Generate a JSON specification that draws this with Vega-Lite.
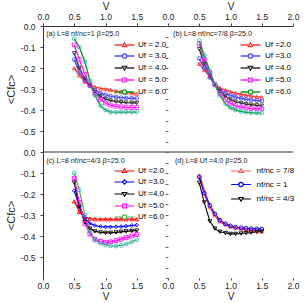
{
"$schema": "https://vega.github.io/schema/vega-lite/v6.json",
"padding": {"left": 5, "top": 1, "right": 5, "bottom": 0},
"config": {"view": {"stroke": null}, "font": "Liberation Sans", "axis": {"grid": false, "labelFont": "Liberation Sans", "titleFont": "Liberation Sans", "titleFontWeight": "normal", "labelFontSize": 8.5, "labelColor": "#222", "titleColor": "#222", "domainColor": "#333", "tickColor": "#444"},
"axisQuantitative": {"labelOverlap": false, "labelFlush": false},
"legend": {"labelFont": "Liberation Sans"}},
"datasets": {
"a": [
{"V":0.5,"C":-0.20,"U":"2.0"},{"V":0.58,"C":-0.235,"U":"2.0"},{"V":0.67,"C":-0.265,"U":"2.0"},{"V":0.75,"C":-0.28,"U":"2.0"},{"V":0.83,"C":-0.29,"U":"2.0"},{"V":0.92,"C":-0.297,"U":"2.0"},{"V":1.0,"C":-0.30,"U":"2.0"},{"V":1.08,"C":-0.305,"U":"2.0"},{"V":1.17,"C":-0.31,"U":"2.0"},{"V":1.25,"C":-0.313,"U":"2.0"},{"V":1.33,"C":-0.316,"U":"2.0"},{"V":1.42,"C":-0.32,"U":"2.0"},{"V":1.5,"C":-0.322,"U":"2.0"},
{"V":0.5,"C":-0.16,"U":"3.0"},{"V":0.58,"C":-0.22,"U":"3.0"},{"V":0.67,"C":-0.26,"U":"3.0"},{"V":0.75,"C":-0.285,"U":"3.0"},{"V":0.83,"C":-0.305,"U":"3.0"},{"V":0.92,"C":-0.32,"U":"3.0"},{"V":1.0,"C":-0.328,"U":"3.0"},{"V":1.08,"C":-0.334,"U":"3.0"},{"V":1.17,"C":-0.338,"U":"3.0"},{"V":1.25,"C":-0.341,"U":"3.0"},{"V":1.33,"C":-0.343,"U":"3.0"},{"V":1.42,"C":-0.344,"U":"3.0"},{"V":1.5,"C":-0.345,"U":"3.0"},
{"V":0.5,"C":-0.13,"U":"4.0"},{"V":0.58,"C":-0.20,"U":"4.0"},{"V":0.67,"C":-0.25,"U":"4.0"},{"V":0.75,"C":-0.285,"U":"4.0"},{"V":0.83,"C":-0.315,"U":"4.0"},{"V":0.92,"C":-0.335,"U":"4.0"},{"V":1.0,"C":-0.348,"U":"4.0"},{"V":1.08,"C":-0.355,"U":"4.0"},{"V":1.17,"C":-0.36,"U":"4.0"},{"V":1.25,"C":-0.363,"U":"4.0"},{"V":1.33,"C":-0.365,"U":"4.0"},{"V":1.42,"C":-0.366,"U":"4.0"},{"V":1.5,"C":-0.367,"U":"4.0"},
{"V":0.5,"C":-0.09,"U":"5.0"},{"V":0.58,"C":-0.16,"U":"5.0"},{"V":0.67,"C":-0.23,"U":"5.0"},{"V":0.75,"C":-0.28,"U":"5.0"},{"V":0.83,"C":-0.32,"U":"5.0"},{"V":0.92,"C":-0.35,"U":"5.0"},{"V":1.0,"C":-0.367,"U":"5.0"},{"V":1.08,"C":-0.377,"U":"5.0"},{"V":1.17,"C":-0.382,"U":"5.0"},{"V":1.25,"C":-0.385,"U":"5.0"},{"V":1.33,"C":-0.387,"U":"5.0"},{"V":1.42,"C":-0.388,"U":"5.0"},{"V":1.5,"C":-0.388,"U":"5.0"},
{"V":0.5,"C":-0.06,"U":"6.0"},{"V":0.58,"C":-0.10,"U":"6.0"},{"V":0.67,"C":-0.17,"U":"6.0"},{"V":0.75,"C":-0.26,"U":"6.0"},{"V":0.83,"C":-0.33,"U":"6.0"},{"V":0.92,"C":-0.38,"U":"6.0"},{"V":1.0,"C":-0.40,"U":"6.0"},{"V":1.08,"C":-0.41,"U":"6.0"},{"V":1.17,"C":-0.41,"U":"6.0"},{"V":1.25,"C":-0.41,"U":"6.0"},{"V":1.33,"C":-0.41,"U":"6.0"},{"V":1.42,"C":-0.41,"U":"6.0"},{"V":1.5,"C":-0.41,"U":"6.0"}
],
"b": [
{"V":0.5,"C":-0.18,"U":"2.0"},{"V":0.58,"C":-0.21,"U":"2.0"},{"V":0.67,"C":-0.24,"U":"2.0"},{"V":0.75,"C":-0.275,"U":"2.0"},{"V":0.83,"C":-0.295,"U":"2.0"},{"V":0.92,"C":-0.305,"U":"2.0"},{"V":1.0,"C":-0.313,"U":"2.0"},{"V":1.08,"C":-0.32,"U":"2.0"},{"V":1.17,"C":-0.325,"U":"2.0"},{"V":1.25,"C":-0.33,"U":"2.0"},{"V":1.33,"C":-0.334,"U":"2.0"},{"V":1.42,"C":-0.337,"U":"2.0"},{"V":1.5,"C":-0.34,"U":"2.0"},
{"V":0.5,"C":-0.155,"U":"3.0"},{"V":0.58,"C":-0.20,"U":"3.0"},{"V":0.67,"C":-0.245,"U":"3.0"},{"V":0.75,"C":-0.28,"U":"3.0"},{"V":0.83,"C":-0.305,"U":"3.0"},{"V":0.92,"C":-0.32,"U":"3.0"},{"V":1.0,"C":-0.33,"U":"3.0"},{"V":1.08,"C":-0.338,"U":"3.0"},{"V":1.17,"C":-0.344,"U":"3.0"},{"V":1.25,"C":-0.349,"U":"3.0"},{"V":1.33,"C":-0.352,"U":"3.0"},{"V":1.42,"C":-0.355,"U":"3.0"},{"V":1.5,"C":-0.357,"U":"3.0"},
{"V":0.5,"C":-0.11,"U":"4.0"},{"V":0.58,"C":-0.18,"U":"4.0"},{"V":0.67,"C":-0.235,"U":"4.0"},{"V":0.75,"C":-0.28,"U":"4.0"},{"V":0.83,"C":-0.31,"U":"4.0"},{"V":0.92,"C":-0.335,"U":"4.0"},{"V":1.0,"C":-0.35,"U":"4.0"},{"V":1.08,"C":-0.36,"U":"4.0"},{"V":1.17,"C":-0.367,"U":"4.0"},{"V":1.25,"C":-0.372,"U":"4.0"},{"V":1.33,"C":-0.375,"U":"4.0"},{"V":1.42,"C":-0.378,"U":"4.0"},{"V":1.5,"C":-0.38,"U":"4.0"},
{"V":0.5,"C":-0.085,"U":"5.0"},{"V":0.58,"C":-0.16,"U":"5.0"},{"V":0.67,"C":-0.225,"U":"5.0"},{"V":0.75,"C":-0.28,"U":"5.0"},{"V":0.83,"C":-0.32,"U":"5.0"},{"V":0.92,"C":-0.35,"U":"5.0"},{"V":1.0,"C":-0.368,"U":"5.0"},{"V":1.08,"C":-0.38,"U":"5.0"},{"V":1.17,"C":-0.386,"U":"5.0"},{"V":1.25,"C":-0.39,"U":"5.0"},{"V":1.33,"C":-0.393,"U":"5.0"},{"V":1.42,"C":-0.394,"U":"5.0"},{"V":1.5,"C":-0.395,"U":"5.0"},
{"V":0.5,"C":-0.07,"U":"6.0"},{"V":0.58,"C":-0.14,"U":"6.0"},{"V":0.67,"C":-0.215,"U":"6.0"},{"V":0.75,"C":-0.28,"U":"6.0"},{"V":0.83,"C":-0.33,"U":"6.0"},{"V":0.92,"C":-0.37,"U":"6.0"},{"V":1.0,"C":-0.39,"U":"6.0"},{"V":1.08,"C":-0.40,"U":"6.0"},{"V":1.17,"C":-0.407,"U":"6.0"},{"V":1.25,"C":-0.411,"U":"6.0"},{"V":1.33,"C":-0.413,"U":"6.0"},{"V":1.42,"C":-0.414,"U":"6.0"},{"V":1.5,"C":-0.415,"U":"6.0"}
],
"c": [
{"V":0.5,"C":-0.235,"U":"2.0"},{"V":0.58,"C":-0.285,"U":"2.0"},{"V":0.67,"C":-0.31,"U":"2.0"},{"V":0.75,"C":-0.317,"U":"2.0"},{"V":0.83,"C":-0.32,"U":"2.0"},{"V":0.92,"C":-0.32,"U":"2.0"},{"V":1.0,"C":-0.32,"U":"2.0"},{"V":1.08,"C":-0.32,"U":"2.0"},{"V":1.17,"C":-0.32,"U":"2.0"},{"V":1.25,"C":-0.32,"U":"2.0"},{"V":1.33,"C":-0.32,"U":"2.0"},{"V":1.42,"C":-0.32,"U":"2.0"},{"V":1.5,"C":-0.32,"U":"2.0"},
{"V":0.5,"C":-0.185,"U":"3.0"},{"V":0.58,"C":-0.26,"U":"3.0"},{"V":0.67,"C":-0.315,"U":"3.0"},{"V":0.75,"C":-0.34,"U":"3.0"},{"V":0.83,"C":-0.35,"U":"3.0"},{"V":0.92,"C":-0.355,"U":"3.0"},{"V":1.0,"C":-0.357,"U":"3.0"},{"V":1.08,"C":-0.357,"U":"3.0"},{"V":1.17,"C":-0.356,"U":"3.0"},{"V":1.25,"C":-0.355,"U":"3.0"},{"V":1.33,"C":-0.353,"U":"3.0"},{"V":1.42,"C":-0.35,"U":"3.0"},{"V":1.5,"C":-0.348,"U":"3.0"},
{"V":0.5,"C":-0.145,"U":"4.0"},{"V":0.58,"C":-0.26,"U":"4.0"},{"V":0.67,"C":-0.335,"U":"4.0"},{"V":0.75,"C":-0.365,"U":"4.0"},{"V":0.83,"C":-0.378,"U":"4.0"},{"V":0.92,"C":-0.383,"U":"4.0"},{"V":1.0,"C":-0.385,"U":"4.0"},{"V":1.08,"C":-0.385,"U":"4.0"},{"V":1.17,"C":-0.383,"U":"4.0"},{"V":1.25,"C":-0.38,"U":"4.0"},{"V":1.33,"C":-0.378,"U":"4.0"},{"V":1.42,"C":-0.376,"U":"4.0"},{"V":1.5,"C":-0.374,"U":"4.0"},
{"V":0.5,"C":-0.125,"U":"5.0"},{"V":0.58,"C":-0.24,"U":"5.0"},{"V":0.67,"C":-0.34,"U":"5.0"},{"V":0.75,"C":-0.39,"U":"5.0"},{"V":0.83,"C":-0.415,"U":"5.0"},{"V":0.92,"C":-0.425,"U":"5.0"},{"V":1.0,"C":-0.43,"U":"5.0"},{"V":1.08,"C":-0.428,"U":"5.0"},{"V":1.17,"C":-0.422,"U":"5.0"},{"V":1.25,"C":-0.415,"U":"5.0"},{"V":1.33,"C":-0.408,"U":"5.0"},{"V":1.42,"C":-0.40,"U":"5.0"},{"V":1.5,"C":-0.393,"U":"5.0"},
{"V":0.5,"C":-0.10,"U":"6.0"},{"V":0.58,"C":-0.18,"U":"6.0"},{"V":0.67,"C":-0.30,"U":"6.0"},{"V":0.75,"C":-0.38,"U":"6.0"},{"V":0.83,"C":-0.42,"U":"6.0"},{"V":0.92,"C":-0.435,"U":"6.0"},{"V":1.0,"C":-0.443,"U":"6.0"},{"V":1.08,"C":-0.447,"U":"6.0"},{"V":1.17,"C":-0.448,"U":"6.0"},{"V":1.25,"C":-0.445,"U":"6.0"},{"V":1.33,"C":-0.438,"U":"6.0"},{"V":1.42,"C":-0.428,"U":"6.0"},{"V":1.5,"C":-0.418,"U":"6.0"}
],
"d": [
{"V":0.5,"C":-0.11,"U":"7/8"},{"V":0.58,"C":-0.19,"U":"7/8"},{"V":0.67,"C":-0.26,"U":"7/8"},{"V":0.75,"C":-0.30,"U":"7/8"},{"V":0.83,"C":-0.33,"U":"7/8"},{"V":0.92,"C":-0.345,"U":"7/8"},{"V":1.0,"C":-0.355,"U":"7/8"},{"V":1.08,"C":-0.36,"U":"7/8"},{"V":1.17,"C":-0.365,"U":"7/8"},{"V":1.25,"C":-0.37,"U":"7/8"},{"V":1.33,"C":-0.373,"U":"7/8"},{"V":1.42,"C":-0.376,"U":"7/8"},{"V":1.5,"C":-0.378,"U":"7/8"},
{"V":0.5,"C":-0.12,"U":"1"},{"V":0.58,"C":-0.195,"U":"1"},{"V":0.67,"C":-0.255,"U":"1"},{"V":0.75,"C":-0.295,"U":"1"},{"V":0.83,"C":-0.325,"U":"1"},{"V":0.92,"C":-0.342,"U":"1"},{"V":1.0,"C":-0.352,"U":"1"},{"V":1.08,"C":-0.358,"U":"1"},{"V":1.17,"C":-0.361,"U":"1"},{"V":1.25,"C":-0.363,"U":"1"},{"V":1.33,"C":-0.365,"U":"1"},{"V":1.42,"C":-0.366,"U":"1"},{"V":1.5,"C":-0.367,"U":"1"},
{"V":0.5,"C":-0.147,"U":"4/3"},{"V":0.58,"C":-0.24,"U":"4/3"},{"V":0.67,"C":-0.33,"U":"4/3"},{"V":0.75,"C":-0.365,"U":"4/3"},{"V":0.83,"C":-0.38,"U":"4/3"},{"V":0.92,"C":-0.386,"U":"4/3"},{"V":1.0,"C":-0.39,"U":"4/3"},{"V":1.08,"C":-0.39,"U":"4/3"},{"V":1.17,"C":-0.388,"U":"4/3"},{"V":1.25,"C":-0.386,"U":"4/3"},{"V":1.33,"C":-0.384,"U":"4/3"},{"V":1.42,"C":-0.381,"U":"4/3"},{"V":1.5,"C":-0.379,"U":"4/3"}
]
},
"columns": 2,
"spacing": 0,
"bounds": "flush",
"resolve": {"scale": {"color": "independent", "stroke": "independent"}, "legend": {"color": "independent"}},
"concat": [
{"width": 125, "height": 126,
 "encoding": {
   "x": {"field": "V", "type": "quantitative", "scale": {"domain": [0, 2]}, "axis": {"orient": "top", "title": "V", "titleFontSize": 10, "titleY": -15, "titleBaseline": "bottom", "values": [0,0.5,1,1.5], "format": ".1f", "tickSize": 3, "labelPadding": 2, "labelOverlap": false, "labelFlush": false, "labelBound": false}},
   "y": {"field": "C", "type": "quantitative", "scale": {"domain": [-0.6, 0]}, "axis": {"orient": "left", "title": "<Cfc>", "titleFontSize": 11, "titleX": -27, "titleBaseline": "bottom", "values": [0,-0.1,-0.2,-0.3,-0.4,-0.5], "labelExpr": "datum.value<-0.001 ? '-'+format(-datum.value,'.1f') : '0.0'", "tickSize": 3, "labelPadding": 5, "labelOverlap": false, "labelFlush": false, "labelBound": false}}
 },
 "layer": [
  {"data": {"name": "a"}, "mark": {"type": "line", "strokeWidth": 1.4},
   "encoding": {
    "color": {"field": "U", "type": "nominal", "scale": {"domain": ["2.0","3.0","4.0","5.0","6.0"], "range": ["#ff3b3b","#4d4dff","#333333","#ff22ff","#1a9a1a"]},
     "legend": {"orient": "none", "legendX": 75, "legendY": 12.5, "title": null, "symbolSize": 121, "labelFontSize": 8, "labelOffset": 7, "rowPadding": -1, "padding": 0, "labelExpr": "'Uf = ' + datum.label",
      "encode": {"symbols": {"update": {"shape": {"signal": "datum.value==='2.0'?'M-1.8,0H-0.4M0.4,0H1.8M0,-0.4L0.4,0.27L-0.4,0.27Z':datum.value==='4.0'?'M-1.8,0H-0.4M0.4,0H1.8M0,0.4L0.4,-0.27L-0.4,-0.27Z':datum.value==='5.0'?'M-1.8,0H-0.35M0.35,0H1.8M-0.35,-0.35H0.35V0.35H-0.35Z':'M-1.8,0H-0.4M0.4,0H1.8M-0.4,0A0.4,0.4,0,1,1,0.4,0A0.4,0.4,0,1,1,-0.4,0Z'"}, "fill": {"value": "white"}, "strokeWidth": {"value": 1.3}}}}}}
   }},
  {"data": {"name": "a"}, "mark": {"type": "point", "filled": false, "size": 15, "strokeWidth": 0.9, "opacity": 1},
   "encoding": {
    "stroke": {"field": "U", "type": "nominal", "scale": {"domain": ["2.0","3.0","4.0","5.0","6.0"], "range": ["#ff3b3b","#4d4dff","#333333","#ff22ff","#33bbcc"]}, "legend": null},
    "shape": {"condition": [{"test": "datum.U==='2.0'", "value": "triangle-up"}, {"test": "datum.U==='4.0'", "value": "triangle-down"}, {"test": "datum.U==='5.0'", "value": "square"}], "value": "circle"}
   }},
  {"data": {"values": [{"V": 0.05, "C": -0.037}]}, "mark": {"type": "text", "align": "left", "baseline": "middle", "fontSize": 7.2, "color": "#222"},
   "encoding": {"text": {"value": "(a) L=8  nf/nc=1  β=25.0"}}}
 ]},
{"width": 125, "height": 126,
 "encoding": {
   "x": {"field": "V", "type": "quantitative", "scale": {"domain": [0, 2]}, "axis": {"orient": "top", "title": "V", "titleFontSize": 10, "titleY": -15, "titleBaseline": "bottom", "values": [0,0.5,1,1.5,2], "format": ".1f", "tickSize": 3, "labelPadding": 2, "labelOverlap": false, "labelFlush": false, "labelBound": false}},
   "y": {"field": "C", "type": "quantitative", "scale": {"domain": [-0.6, 0]}, "axis": {"orient": "left", "title": null, "labels": false, "domain": false, "values": [0,-0.05,-0.1,-0.15,-0.2,-0.25,-0.3,-0.35,-0.4,-0.45,-0.5,-0.55,-0.6], "tickSize": 3, "tickColor": "#666"}}
 },
 "layer": [
  {"data": {"name": "b"}, "mark": {"type": "line", "strokeWidth": 1.4},
   "encoding": {
    "color": {"field": "U", "type": "nominal", "scale": {"domain": ["2.0","3.0","4.0","5.0","6.0"], "range": ["#ff3b3b","#4d4dff","#333333","#ff22ff","#1a9a1a"]},
     "legend": {"orient": "none", "legendX": 76, "legendY": 12.5, "title": null, "symbolSize": 121, "labelFontSize": 8, "labelOffset": 8, "rowPadding": -1, "padding": 0, "labelExpr": "'Uf =' + datum.label",
      "encode": {"symbols": {"update": {"shape": {"signal": "datum.value==='2.0'?'M-1.8,0H-0.4M0.4,0H1.8M0,-0.4L0.4,0.27L-0.4,0.27Z':datum.value==='4.0'?'M-1.8,0H-0.4M0.4,0H1.8M0,0.4L0.4,-0.27L-0.4,-0.27Z':datum.value==='5.0'?'M-1.8,0H-0.35M0.35,0H1.8M-0.35,-0.35H0.35V0.35H-0.35Z':'M-1.8,0H-0.4M0.4,0H1.8M-0.4,0A0.4,0.4,0,1,1,0.4,0A0.4,0.4,0,1,1,-0.4,0Z'"}, "fill": {"value": "white"}, "strokeWidth": {"value": 1.3}}}}}}
   }},
  {"data": {"name": "b"}, "mark": {"type": "point", "filled": false, "size": 15, "strokeWidth": 0.9, "opacity": 1},
   "encoding": {
    "stroke": {"field": "U", "type": "nominal", "scale": {"domain": ["2.0","3.0","4.0","5.0","6.0"], "range": ["#ff3b3b","#4d4dff","#333333","#ff22ff","#33bbcc"]}, "legend": null},
    "shape": {"condition": [{"test": "datum.U==='2.0'", "value": "triangle-up"}, {"test": "datum.U==='4.0'", "value": "triangle-down"}, {"test": "datum.U==='5.0'", "value": "square"}], "value": "circle"}
   }},
  {"data": {"values": [{"V": 0.08, "C": -0.037}]}, "mark": {"type": "text", "align": "left", "baseline": "middle", "fontSize": 7.2, "color": "#222"},
   "encoding": {"text": {"value": "(b) L=8  nf/nc=7/8  β=25.0"}}}
 ]},
{"width": 125, "height": 126,
 "encoding": {
   "x": {"field": "V", "type": "quantitative", "scale": {"domain": [0, 2]}, "axis": {"orient": "bottom", "title": "V", "titleFontSize": 10, "titleY": 23, "titleBaseline": "bottom", "domain": false, "values": [0,0.5,1,1.5], "format": ".1f", "tickSize": 2, "labelPadding": 1, "labelOverlap": false, "labelFlush": false, "labelBound": false}},
   "y": {"field": "C", "type": "quantitative", "scale": {"domain": [-0.6, 0]}, "axis": {"orient": "left", "title": "<Cfc>", "titleFontSize": 11, "titleX": -27, "titleBaseline": "bottom", "values": [0,-0.1,-0.2,-0.3,-0.4,-0.5], "labelExpr": "datum.value<-0.001 ? '-'+format(-datum.value,'.1f') : '0.0'", "tickSize": 3, "labelPadding": 5, "labelOverlap": false, "labelFlush": false, "labelBound": false}}
 },
 "layer": [
  {"data": {"values": [{"C": 0}]}, "mark": {"type": "rule", "color": "#333", "strokeWidth": 1}, "encoding": {"x": null}},
  {"data": {"name": "c"}, "mark": {"type": "line", "strokeWidth": 1.2},
   "encoding": {
    "color": {"field": "U", "type": "nominal", "scale": {"domain": ["2.0","3.0","4.0","5.0","6.0"], "range": ["#ff0000","#0000ff","#000000","#ff00ff","#55b055"]},
     "legend": {"orient": "none", "legendX": 75, "legendY": 12.5, "title": null, "symbolSize": 121, "labelFontSize": 8, "labelOffset": 7, "rowPadding": -1, "padding": 0, "labelExpr": "'Uf =' + datum.label",
      "encode": {"symbols": {"update": {"shape": {"signal": "datum.value==='2.0'?'M-1.8,0H-0.4M0.4,0H1.8M0,-0.4L0.4,0.27L-0.4,0.27Z':datum.value==='3.0'?'M-1.8,0H-0.4M0.4,0H1.8M-0.4,0L0,-0.4L0.4,0L0,0.4Z':datum.value==='4.0'?'M-1.8,0H-0.4M0.4,0H1.8M0,0.4L0.4,-0.27L-0.4,-0.27Z':datum.value==='5.0'?'M-1.8,0H-0.35M0.35,0H1.8M-0.35,-0.35H0.35V0.35H-0.35Z':'M-1.8,0H-0.4M0.4,0H1.8M-0.4,0A0.4,0.4,0,1,1,0.4,0A0.4,0.4,0,1,1,-0.4,0Z'"}, "fill": {"value": "white"}, "strokeWidth": {"value": 1.2}}}}}}
   }},
  {"data": {"name": "c"}, "mark": {"type": "point", "filled": false, "size": 15, "strokeWidth": 0.9, "opacity": 1},
   "encoding": {
    "stroke": {"field": "U", "type": "nominal", "scale": {"domain": ["2.0","3.0","4.0","5.0","6.0"], "range": ["#ff0000","#0000ff","#000000","#ff00ff","#33bbcc"]}, "legend": null},
    "shape": {"condition": [{"test": "datum.U==='2.0'", "value": "triangle-up"}, {"test": "datum.U==='3.0'", "value": "diamond"}, {"test": "datum.U==='4.0'", "value": "triangle-down"}, {"test": "datum.U==='5.0'", "value": "square"}], "value": "circle"}
   }},
  {"data": {"values": [{"V": 0.05, "C": -0.042}]}, "mark": {"type": "text", "align": "left", "baseline": "middle", "fontSize": 7.2, "color": "#222"},
   "encoding": {"text": {"value": "(c) L=8  nf/nc=4/3  β=25.0"}}}
 ]},
{"width": 125, "height": 126,
 "encoding": {
   "x": {"field": "V", "type": "quantitative", "scale": {"domain": [0, 2]}, "axis": {"orient": "bottom", "title": "V", "titleFontSize": 10, "titleY": 23, "titleBaseline": "bottom", "domain": false, "values": [0,0.5,1,1.5,2], "format": ".1f", "tickSize": 2, "labelPadding": 1, "labelOverlap": false, "labelFlush": false, "labelBound": false}},
   "y": {"field": "C", "type": "quantitative", "scale": {"domain": [-0.6, 0]}, "axis": {"orient": "left", "title": null, "labels": false, "domain": false, "values": [0,-0.05,-0.1,-0.15,-0.2,-0.25,-0.3,-0.35,-0.4,-0.45,-0.5,-0.55,-0.6], "tickSize": 3, "tickColor": "#666"}}
 },
 "layer": [
  {"data": {"values": [{"C": 0}]}, "mark": {"type": "rule", "color": "#333", "strokeWidth": 1}, "encoding": {"x": null}},
  {"data": {"name": "d"}, "mark": {"type": "line"},
   "encoding": {
    "strokeWidth": {"condition": {"test": "datum.U==='7/8'", "value": 2.5}, "value": 1.1},
    "color": {"field": "U", "type": "nominal", "scale": {"domain": ["7/8","1","4/3"], "range": ["#ff5c5c","#0000ff","#000000"]},
     "legend": {"orient": "none", "legendX": 66.5, "legendY": 12.5, "title": null, "symbolSize": 121, "labelFontSize": 8, "labelOffset": 9, "rowPadding": 2.5, "padding": 0, "labelExpr": "'nf/nc = ' + datum.label",
      "encode": {"symbols": {"update": {"shape": {"signal": "datum.value==='7/8'?'M-1.8,0H-0.4M0.4,0H1.8M0,-0.4L0.4,0.27L-0.4,0.27Z':datum.value==='4/3'?'M-1.8,0H-0.4M0.4,0H1.8M0,0.4L0.4,-0.27L-0.4,-0.27Z':'M-1.8,0H-0.4M0.4,0H1.8M-0.4,0A0.4,0.4,0,1,1,0.4,0A0.4,0.4,0,1,1,-0.4,0Z'"}, "fill": {"value": "white"}, "strokeWidth": {"value": 1.2}}}}}}
   }},
  {"data": {"name": "d"}, "mark": {"type": "point", "filled": false, "size": 15, "strokeWidth": 0.9, "opacity": 1},
   "encoding": {
    "stroke": {"field": "U", "type": "nominal", "scale": {"domain": ["7/8","1","4/3"], "range": ["#ff6666","#0000ff","#000000"]}, "legend": null},
    "shape": {"condition": [{"test": "datum.U==='7/8'", "value": "triangle-up"}, {"test": "datum.U==='4/3'", "value": "triangle-down"}], "value": "circle"}
   }},
  {"data": {"values": [{"V": 0.11, "C": -0.042}]}, "mark": {"type": "text", "align": "left", "baseline": "middle", "fontSize": 7.2, "color": "#222"},
   "encoding": {"text": {"value": "(d) L=8  Uf =4.0  β=25.0"}}}
 ]}
]
}
